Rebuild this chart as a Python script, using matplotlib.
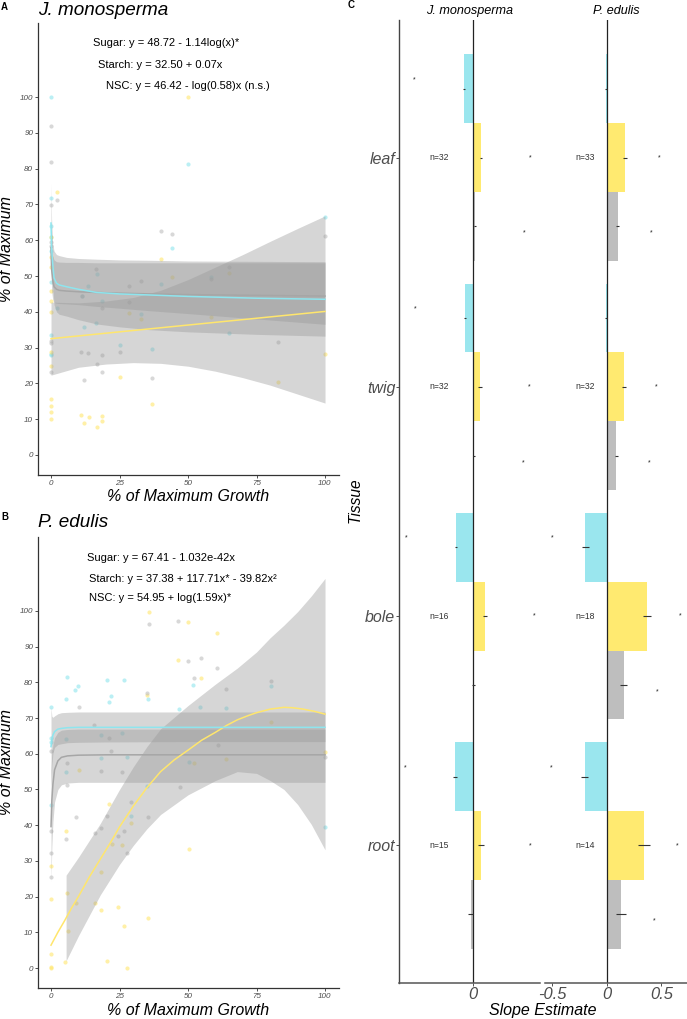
import matplotlib
matplotlib.use('Agg')
import matplotlib.pyplot as plt
import numpy as np

plt.rcParams['font.family'] = ['Liberation Sans', 'DejaVu Sans']

W, H = 687, 1019

SUGAR = '#8EE5EE'
STARCH = '#FFE66D'
NSC = '#BEBEBE'
BAR_SUGAR = '#9AE6EE'
BAR_STARCH = '#FFEA70'
BAR_NSC = '#BEBEBE'
RIBBON = '#999999'
TICK_GREY = '#4D4D4D'

# ---- panel A: J. monosperma (raw points) ----
a_sugar_x = [0, 50, 0, 0, 0, 0, 0, 44, 16.8, 13.6, 58.3, 40, 11.2, 18.5, 2.3, 32.8,
             16.4, 12, 100, 0, 0, 0, 25, 37, 64.8]
a_sugar_y = [100, 81.3, 71.7, 64, 61, 57, 48.4, 57.7, 50.6, 47.3, 49.8, 47.8, 44.5, 43,
             41.1, 39.4, 37, 35.8, 66.6, 33.5, 28.2, 27.9, 30.6, 29.6, 34]
a_starch_x = [50, 2.3, 0, 0, 0, 0, 0, 0, 40, 44, 64.8, 28.5, 32.8, 58.3, 0, 0, 25, 37,
              82.7, 100, 0, 0, 0, 0, 11.1, 12, 13.8, 18.6, 18.6, 16.8]
a_starch_y = [100, 73.4, 61, 55.4, 52.6, 45.9, 43.1, 40, 54.7, 49.8, 50.8, 39.8, 38, 38.6,
              28.7, 24.9, 21.9, 14.2, 20.3, 28.1, 15.6, 13.7, 12.1, 10.1, 11.2, 8.8, 10.6,
              10.9, 9.4, 7.7]
a_nsc_x = [0, 0, 2.3, 0, 0, 0, 40, 44, 16.4, 28.5, 32.8, 64.8, 58.3, 28.5, 18.6, 100, 0,
           0, 0, 11.1, 13.6, 18.6, 16.8, 18.5, 12, 25, 37, 82.7, 11.2]
a_nsc_y = [92, 81.8, 71.2, 69.8, 59.6, 58.5, 62.5, 61.7, 52, 47.3, 48.6, 52.6, 49.2, 42.8,
           41, 61.3, 31.9, 31.4, 23.1, 28.7, 28.5, 27.9, 25.5, 23.2, 21, 28.8, 21.6, 31.7,
           44.5]

# panel A fitted curves
a_fit_x = [0, 0.2, 0.6, 1.1, 2, 3, 5.7, 10, 16.7, 25, 36, 50, 75, 100]
a_sugar_fit = [64.8, 58, 53.6, 49.5, 48, 47.5, 47, 46.3, 45.4, 45, 44.7, 44.3, 43.8, 43.5]
a_sugar_hi = [76, 66, 59, 57, 56, 55.7, 55.2, 54.9, 54.7, 54.5, 54.4, 54.2, 54.1, 54]
a_sugar_lo = [53.6, 50, 47, 42, 40, 39.3, 38.8, 37.8, 36.6, 35.8, 35, 34.4, 33.7, 33.2]
a_nsc_fit = [58, 52, 49, 47, 46.3, 46, 45.8, 45.6, 45.4, 45.2, 45, 44.8, 44.6, 44.4]
a_nsc_hi = [62, 58, 55.5, 54.5, 54, 53.9, 53.8, 53.8, 53.7, 53.7, 53.7, 53.7, 53.7, 53.7]
a_nsc_lo = [54, 46, 43.5, 42.6, 42.4, 42.3, 42.2, 42, 41.5, 41, 40.3, 39.5, 38, 36.5]
a_starch_fit_x = [0, 100]
a_starch_fit = [32.5, 40.1]
a_starch_band_x = [0, 10, 20, 30, 40, 50, 60, 70, 80, 90, 100]
a_starch_hi = [42.7, 42.5, 43, 44, 46, 49, 52.5, 56, 59.7, 63.3, 66.8]
a_starch_lo = [22.3, 24.5, 25.4, 25.8, 25.6, 24.8, 23.4, 21.6, 19.5, 17, 14.5]

# ---- panel B: P. edulis (raw points) ----
b_sugar_x = [5.7, 20.3, 26.6, 51.7, 80.2, 10, 8.8, 5.4, 21.9, 21.3, 35.4, 46.6, 54.5,
             63.9, 0, 0, 0, 5.4, 5.6, 18.2, 26, 18.2, 27.6, 34.9, 50.4, 100, 29.1, 0]
b_sugar_y = [81.6, 80.7, 80.7, 79.3, 79, 79, 77.9, 75.3, 76.3, 74.4, 75.3, 72.5, 73.2,
             72.8, 73, 64.3, 63.4, 64, 55, 65.3, 65.7, 58.9, 59.2, 51, 57.6, 39.6, 42.6, 45.7]
b_starch_x = [35.8, 49.9, 60.6, 46.5, 54.7, 35, 10.1, 52.3, 63.9, 80.2, 100, 21.3, 29.1,
              5.4, 22.1, 26, 50.4, 0, 18.2, 0, 5.7, 9.1, 16, 18.2, 24.5, 35.4, 26.6, 6.3,
              20.3, 5.2, 0, 0, 0, 27.7]
b_starch_y = [99.6, 96.8, 93.9, 86.3, 81.2, 76.4, 55.5, 57.3, 58.5, 69, 60.4, 45.9, 40.7,
              38.5, 34.7, 34.5, 33.3, 28.7, 27, 19.3, 21.1, 18.1, 18.1, 16.2, 17.2, 13.9,
              11.8, 10.5, 2, 1.8, 3.8, 0, 0.3, 0.1]
b_nsc_x = [35.8, 46.5, 49.9, 54.7, 60.6, 52.3, 80.2, 35, 63.9, 10.1, 0, 5.7, 5.7, 15.8,
           21.2, 22, 18.2, 26, 47.1, 61, 100, 9.1, 20.3, 29.1, 35.4, 0, 5.6, 16, 18.2,
           26.8, 24.6, 27.6, 0, 0]
b_nsc_y = [96.4, 97.1, 85.9, 86.7, 83.9, 81.3, 80.3, 77.1, 78.2, 73, 60.9, 57.5, 51.2, 68,
           64.3, 60.8, 55.3, 54.8, 50.8, 62.5, 59, 42.2, 42.6, 46.4, 42.4, 38.5, 36, 37.9,
           39.1, 38.5, 37, 32.3, 32.1, 25.6]

# panel B fitted curves
b_fit_x = [0, 0.3, 0.7, 1.3, 2.5, 3.8, 6, 10, 20, 50, 100]
b_sugar_fit = [62, 63.8, 65.2, 66.2, 66.9, 67.1, 67.3, 67.4, 67.4, 67.4, 67.4]
b_sugar_hi = [73, 70.5, 70.2, 70.6, 71.2, 71.5, 71.6, 71.7, 71.7, 71.7, 71.7]
b_sugar_lo = [51, 57, 60.2, 61.8, 62.6, 62.8, 63.1, 63.2, 63.3, 63.4, 63.4]
b_nsc_fit = [39.6, 47, 51.5, 55.5, 58, 59, 59.4, 59.6, 59.7, 59.7, 59.7]
b_nsc_hi = [55.4, 60, 62.5, 64.5, 66, 66.6, 66.8, 66.9, 66.9, 66.9, 66.9]
b_nsc_lo = [24, 34, 41, 46.5, 50, 51.3, 51.8, 52, 52, 52, 52]
b_starch_fit_x = [0, 2.5, 5, 7.5, 10, 14, 18, 22, 25, 30, 35, 40, 45, 50, 55, 60, 64, 68,
                  72, 75, 80, 85, 88, 92, 96, 100]
b_starch_fit = [6.4, 10, 13.3, 16.8, 20, 25.5, 30.5, 35.5, 39.5, 45.3, 50.5, 55, 58.3, 61,
                63.8, 66, 67.9, 69.5, 70.7, 71.5, 72.5, 73, 72.9, 72.5, 71.9, 71.1]
b_starch_band_x = [5.5, 10, 18, 25, 30, 35, 40, 50, 60, 68, 75, 80, 85, 90, 95, 100]
b_starch_hi = [26, 31, 40.5, 50, 56.3, 62, 67, 73.5, 79.5, 84, 88.5, 92.5, 96, 99.8,
               104.2, 109.1]
b_starch_lo = [2, 9, 20.5, 29, 34.3, 39, 43, 48.5, 52.5, 55, 54.5, 52.5, 50, 45.8, 40.2, 33.1]

a_labels = ['Sugar: y = 48.72 - 1.14log(x)*', 'Starch: y = 32.50 + 0.07x',
            'NSC: y = 46.42 - log(0.58)x (n.s.)']
a_label_x = [42, 40, 50]
a_label_y = [115, 109, 103]
b_labels = ['Sugar: y = 67.41 - 1.032e-42x', 'Starch: y = 37.38 + 117.71x* - 39.82x\u00b2',
            'NSC: y = 54.95 + log(1.59x)*']
b_label_x = [40, 48, 40]
b_label_y = [114.7, 109, 103.6]

# ---- panel C: slope estimates ----
tissues = ['leaf', 'twig', 'bole', 'root']
jm_sugar = [-0.052, -0.046, -0.099, -0.105]
jm_starch = [0.049, 0.043, 0.073, 0.0475]
jm_nsc = [0.012, 0.0095, 0.0036, -0.012]
jm_sugar_se = [0.006, 0.006, 0.006, 0.014]
jm_starch_se = [0.006, 0.012, 0.012, 0.017]
jm_nsc_se = [0.006, 0.006, 0.009, 0.013]
jm_sig_sugar = [-0.347, -0.341, -0.392, -0.40]
jm_sig_starch = [0.342, 0.336, 0.366, 0.342]
jm_sig_nsc = [0.303, 0.30, np.nan, np.nan]
jm_n = [32, 32, 16, 15]

pe_sugar = [-0.003, -0.005, -0.195, -0.198]
pe_starch = [0.167, 0.155, 0.365, 0.34]
pe_nsc = [0.10, 0.088, 0.155, 0.133]
pe_sugar_se = [0.01, 0.01, 0.03, 0.032]
pe_starch_se = [0.018, 0.018, 0.038, 0.053]
pe_nsc_se = [0.015, 0.012, 0.029, 0.044]
pe_sig_sugar = [np.nan, np.nan, -0.50, -0.502]
pe_sig_starch = [0.48, 0.456, 0.672, 0.641]
pe_sig_nsc = [0.404, 0.392, 0.459, 0.434]
pe_n = [33, 32, 18, 14]


fig = plt.figure(figsize=(W / 100, H / 100), dpi=100)


def px_axes(left, top, right, bottom):
    return fig.add_axes([left / W, 1 - bottom / H, (right - left) / W, (bottom - top) / H])


def ftext(x, y, s, **kw):
    fig.text(x / W, 1 - y / H, s, **kw)


def scatter_panel(ax, pts, fits, starch_band, starch_fit, labels, lab_x, lab_y):
    for (x, y), col in zip(pts, [SUGAR, STARCH, NSC]):
        ax.scatter(x, y, s=9, color=col, alpha=0.6, lw=0, zorder=1)
    fx, curves = fits
    for hi, lo in [(curves['nsc'][1], curves['nsc'][2]), (curves['sugar'][1], curves['sugar'][2])]:
        ax.fill_between(fx, lo, hi, color=RIBBON, alpha=0.4, lw=0, zorder=2)
    bx, bhi, blo = starch_band
    ax.fill_between(bx, blo, bhi, color=RIBBON, alpha=0.4, lw=0, zorder=2)
    ax.plot(fx, curves['nsc'][0], color='#A6A6A6', lw=1.1, zorder=3)
    ax.plot(starch_fit[0], starch_fit[1], color=STARCH, lw=1.1, zorder=3)
    ax.plot(fx, curves['sugar'][0], color=SUGAR, lw=1.1, zorder=4)
    for s, x, y in zip(labels, lab_x, lab_y):
        ax.text(x, y, s, ha='center', va='center', fontsize=8, color='black')

    ax.set_xlim(-4.75, 105.1)
    ax.set_ylim(-5.6, 120.7)
    ax.set_xticks([0, 25, 50, 75, 100])
    ax.set_yticks(range(0, 101, 10))
    for side in ['top', 'right']:
        ax.spines[side].set_visible(False)
    for side in ['left', 'bottom']:
        ax.spines[side].set_color('#333333')
        ax.spines[side].set_linewidth(0.9)
    ax.tick_params(length=2.4, width=0.6, color='#333333', labelsize=5.8,
                   labelcolor=TICK_GREY, pad=1)
    for lab in ax.get_xticklabels() + ax.get_yticklabels():
        lab.set_fontstyle('italic')


axA = px_axes(38, 23, 339, 475)
scatter_panel(axA,
              [(a_sugar_x, a_sugar_y), (a_starch_x, a_starch_y), (a_nsc_x, a_nsc_y)],
              (a_fit_x, {'sugar': (a_sugar_fit, a_sugar_hi, a_sugar_lo),
                         'nsc': (a_nsc_fit, a_nsc_hi, a_nsc_lo)}),
              (a_starch_band_x, a_starch_hi, a_starch_lo),
              (a_starch_fit_x, a_starch_fit), a_labels, a_label_x, a_label_y)

axB = px_axes(38, 537, 339, 988)
scatter_panel(axB,
              [(b_sugar_x, b_sugar_y), (b_starch_x, b_starch_y), (b_nsc_x, b_nsc_y)],
              (b_fit_x, {'sugar': (b_sugar_fit, b_sugar_hi, b_sugar_lo),
                         'nsc': (b_nsc_fit, b_nsc_hi, b_nsc_lo)}),
              (b_starch_band_x, b_starch_hi, b_starch_lo),
              (b_starch_fit_x, b_starch_fit), b_labels, b_label_x, b_label_y)

# titles and axis labels for A and B
ftext(38, 15, 'J. monosperma', fontsize=13.6, fontstyle='italic', va='baseline')
ftext(38, 527, 'P. edulis', fontsize=13.6, fontstyle='italic', va='baseline')
for yc in [249, 762]:
    ftext(7, yc, '% of Maximum', fontsize=11.5, fontstyle='italic', rotation=90,
          ha='center', va='center')
for yb in [501, 1015]:
    ftext(188.5, yb, '% of Maximum Growth', fontsize=11.5, fontstyle='italic',
          ha='center', va='baseline')
ftext(4.5, 6.5, 'A', fontsize=7, fontweight='bold', ha='center', va='center')
ftext(4.5, 517.5, 'B', fontsize=7, fontweight='bold', ha='center', va='center')
ftext(351.5, 4.5, 'C', fontsize=7, fontweight='bold', ha='center', va='center')


def slope_facet(ax, vals, ses, sigs, ns, xlim, xticks, xticklabels, left):
    pos = np.arange(len(tissues))
    offsets = [-0.3, 0.0, 0.3]
    sig_offsets = [-0.34, 0.0, 0.33]
    for v, se, sg, col, off, soff in zip(vals, ses, sigs, [BAR_SUGAR, BAR_STARCH, BAR_NSC],
                                        offsets, sig_offsets):
        ax.barh(pos + off, v, height=0.3, color=col, lw=0, zorder=1)
        ax.errorbar(v, pos + off, xerr=se, fmt='none', ecolor='#333333',
                    elinewidth=0.8, capsize=0, zorder=3)
        for x, y in zip(sg, pos + soff):
            if not np.isnan(x):
                ax.text(x, y, '*', fontsize=5, ha='center', va='center', color='#222222')
    for y, n in zip(pos, ns):
        ax.text(-0.2, y, 'n=%d' % n, fontsize=6.2, ha='center', va='center', color='#333333')
    ax.axvline(0, color='#222222', lw=0.9, zorder=2)
    ax.set_xlim(*xlim)
    ax.set_ylim(3.6, -0.6)
    ax.set_xticks(xticks)
    ax.set_xticklabels(xticklabels, fontstyle='italic')
    for side in ['top', 'right']:
        ax.spines[side].set_visible(False)
    ax.spines['bottom'].set_color('#555555')
    ax.spines['bottom'].set_linewidth(1.1)
    if left:
        ax.spines['left'].set_color('#444444')
        ax.spines['left'].set_linewidth(1.0)
        ax.set_yticks(pos)
        ax.set_yticklabels(tissues, fontstyle='italic')
        ax.tick_params(axis='y', length=2.2, width=0.6, color='#333333', labelsize=11.5,
                       labelcolor=TICK_GREY, pad=0.5)
    else:
        ax.spines['left'].set_visible(False)
        ax.set_yticks([])
    ax.tick_params(axis='x', length=2.2, width=0.6, color='#333333', labelsize=11.9,
                   labelcolor=TICK_GREY, pad=0.5)


axC1 = px_axes(399, 20, 540, 983)
slope_facet(axC1, [jm_sugar, jm_starch, jm_nsc], [jm_sugar_se, jm_starch_se, jm_nsc_se],
            [jm_sig_sugar, jm_sig_starch, jm_sig_nsc], jm_n, (-0.437, 0.399),
            [0], ['0'], True)
axC2 = px_axes(545, 20, 687, 983)
slope_facet(axC2, [pe_sugar, pe_starch, pe_nsc], [pe_sugar_se, pe_starch_se, pe_nsc_se],
            [pe_sig_sugar, pe_sig_starch, pe_sig_nsc], pe_n, (-0.563, 0.733),
            [-0.5, 0, 0.5], ['-0.5', '0', '0.5'], False)

ftext(470, 14, 'J. monosperma', fontsize=9.1, fontstyle='italic', ha='center', va='baseline')
ftext(616, 14, 'P. edulis', fontsize=9.1, fontstyle='italic', ha='center', va='baseline')
ftext(355, 500, 'Tissue', fontsize=11.2, fontstyle='italic', rotation=90,
      ha='center', va='center')
ftext(543, 1015, 'Slope Estimate', fontsize=11.5, fontstyle='italic', ha='center',
      va='baseline')

fig.savefig('out.png', dpi=100)
